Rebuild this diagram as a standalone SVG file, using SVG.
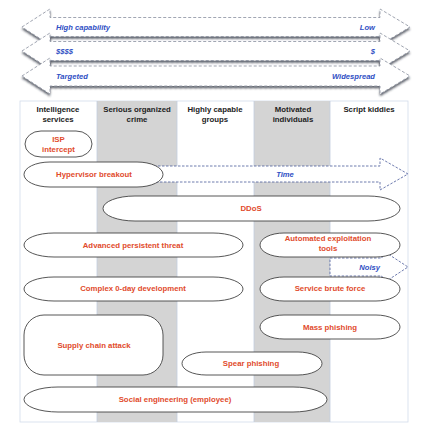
<svg xmlns="http://www.w3.org/2000/svg" width="425" height="440" viewBox="0 0 425 440">
<defs>
<filter id="sh" x="-5%" y="-30%" width="110%" height="180%">
<feDropShadow dx="0" dy="2" stdDeviation="0.8" flood-color="#2a2f3a" flood-opacity="0.75"/>
</filter>
<style>
.scale{fill:#fff;stroke:#8a90a0;stroke-width:0.8;stroke-dasharray:3 2;filter:url(#sh)}
.blue{font-family:"Liberation Sans",Arial,sans-serif;font-size:7.6px;font-weight:bold;font-style:italic;fill:#2f4fc4}
.hdr{font-family:"Liberation Sans",Arial,sans-serif;font-size:7.8px;font-weight:bold;fill:#222;text-anchor:middle}
.lbl{font-family:"Liberation Sans",Arial,sans-serif;font-size:7.8px;font-weight:bold;fill:#e14b2c;text-anchor:middle}
.pill{fill:#fff;stroke:#444;stroke-width:0.9}
.grey{fill:#d4d4d4}
.sep{stroke:#c3cee0;stroke-width:0.8}
.darr{fill:#fff;stroke:#4a5a9a;stroke-width:0.8;stroke-dasharray:2.5 1.5}
</style>
</defs>
<rect width="425" height="440" fill="#fff"/>
<g id="scales">
<g id="scale-capability">
<path class="scale" d="M22,27 L50,9 L50,17.5 L380,17.5 L380,9 L410,27 L380,45 L380,36.5 L50,36.5 L50,45 Z"/>
<text class="blue" x="56" y="30">High capability</text>
<text class="blue" x="375" y="30" text-anchor="end">Low</text>
</g>
<g id="scale-cost">
<path class="scale" d="M22,51 L50,33 L50,41.5 L380,41.5 L380,33 L410,51 L380,69 L380,60.5 L50,60.5 L50,69 Z"/>
<text class="blue" x="56" y="54">$$$$</text>
<text class="blue" x="375" y="54" text-anchor="end">$</text>
</g>
<g id="scale-target">
<path class="scale" d="M22,76 L50,58 L50,66 L380,66 L380,58 L410,76 L380,94 L380,86 L50,86 L50,94 Z"/>
<text class="blue" x="56" y="79">Targeted</text>
<text class="blue" x="375" y="79" text-anchor="end">Widespread</text>
</g>
</g>
<g id="grid">
<rect x="20" y="101" width="388" height="321" fill="#fff" stroke="#d3dcea" stroke-width="0.8"/>
<rect class="grey" x="97" y="101" width="80" height="321"/>
<rect class="grey" x="254" y="101" width="76" height="321"/>
<line class="sep" x1="97" y1="101" x2="97" y2="422"/>
<line class="sep" x1="177" y1="101" x2="177" y2="422"/>
<line class="sep" x1="254" y1="101" x2="254" y2="422"/>
<line class="sep" x1="330" y1="101" x2="330" y2="422"/>
<text class="hdr" x="58" y="112">Intelligence</text>
<text class="hdr" x="58" y="122">services</text>
<text class="hdr" x="137" y="112">Serious organized</text>
<text class="hdr" x="137" y="122">crime</text>
<text class="hdr" x="215" y="112">Highly capable</text>
<text class="hdr" x="215" y="122">groups</text>
<text class="hdr" x="293" y="112">Motivated</text>
<text class="hdr" x="293" y="122">individuals</text>
<text class="hdr" x="369" y="112">Script kiddies</text>
</g>
<g id="connectors">
<g id="time-arrow">
<path class="darr" d="M150,166 L380,166 L380,158 L408,174 L380,190 L380,182 L150,182"/>
<text class="blue" x="285" y="177" text-anchor="middle">Time</text>
</g>
<g id="noisy-arrow">
<path class="darr" d="M330,258 L382,258 L382,250 L408,267 L382,284 L382,276 L330,276 Z"/>
<text class="blue" x="380" y="270" text-anchor="end">Noisy</text>
</g>
</g>
<g id="isp-intercept">
<rect class="pill" x="25" y="131" width="67" height="26" rx="16" ry="13"/>
<text class="lbl" x="58.5" y="142">ISP</text>
<text class="lbl" x="58.5" y="152">intercept</text>
</g>
<g id="hypervisor-breakout">
<rect class="pill" x="24" y="162" width="139" height="25" rx="26" ry="12.5"/>
<text class="lbl" x="94" y="177">Hypervisor breakout</text>
</g>
<g id="ddos">
<rect class="pill" x="103" y="196" width="297" height="25" rx="32" ry="12.5"/>
<text class="lbl" x="251" y="211">DDoS</text>
</g>
<g id="apt">
<rect class="pill" x="24" y="233" width="219" height="24" rx="30" ry="12"/>
<text class="lbl" x="133" y="248">Advanced persistent threat</text>
</g>
<g id="automated-exploitation">
<rect class="pill" x="260" y="233" width="140" height="24" rx="24" ry="12"/>
<text class="lbl" x="328" y="241">Automated exploitation</text>
<text class="lbl" x="328" y="251">tools</text>
</g>
<g id="complex-0day">
<rect class="pill" x="24" y="277" width="219" height="24" rx="30" ry="12"/>
<text class="lbl" x="133" y="291">Complex 0-day development</text>
</g>
<g id="service-brute-force">
<rect class="pill" x="260" y="277" width="140" height="24" rx="24" ry="12"/>
<text class="lbl" x="330" y="291">Service brute force</text>
</g>
<g id="mass-phishing">
<rect class="pill" x="260" y="315" width="140" height="24" rx="24" ry="12"/>
<text class="lbl" x="330" y="330">Mass phishing</text>
</g>
<g id="supply-chain">
<rect class="pill" x="24" y="315" width="139" height="60" rx="20" ry="20"/>
<text class="lbl" x="94" y="348">Supply chain attack</text>
</g>
<g id="spear-phishing">
<rect class="pill" x="182" y="352" width="140" height="23" rx="24" ry="11.5"/>
<text class="lbl" x="251" y="366">Spear phishing</text>
</g>
<g id="social-engineering">
<rect class="pill" x="24" y="387" width="303" height="25" rx="34" ry="12.5"/>
<text class="lbl" x="175" y="402">Social engineering (employee)</text>
</g>
</svg>
